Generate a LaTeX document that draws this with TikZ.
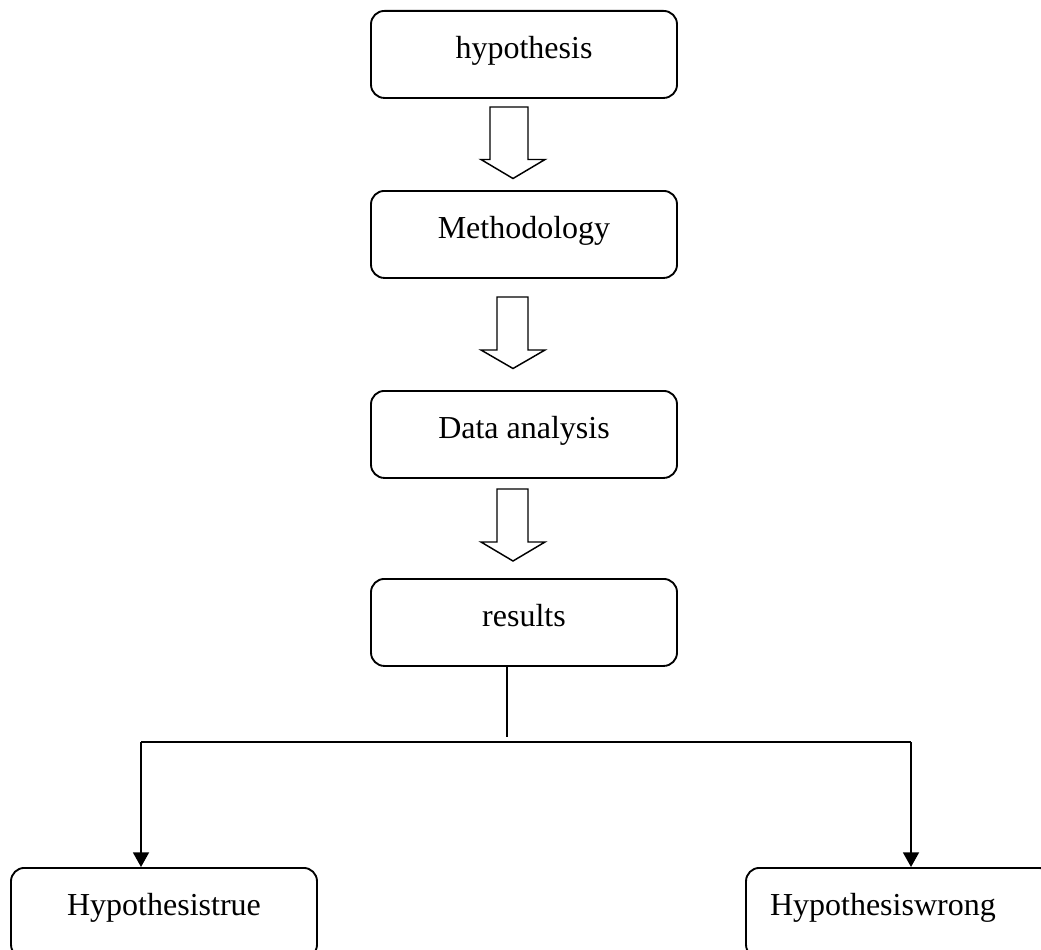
\documentclass[tikz,border=0pt]{standalone}
\usepackage{fontspec}
\setmainfont{Liberation Serif}
\usetikzlibrary{arrows.meta}
\begin{document}
\begin{tikzpicture}[x=0.75pt,y=-0.75pt,
  box/.style={draw, line width=1.4pt, rounded corners=10pt, inner ysep=0pt, inner xsep=0pt,
    minimum width=229.5pt, text height=35.5pt, text depth=29.75pt, anchor=north,
    font=\fontsize{24}{28}\selectfont},
  conn/.style={line width=1.3pt},
  fatarr/.style={draw, line width=1.1pt, fill=white, line join=miter},
  tip/.style={-{Triangle[width=12pt,length=11pt]}}]
\useasboundingbox (0,0) rectangle (1041,949);
\node[box] (hyp) at (524,10) {hypothesis};
\node[box] (meth) at (524,190) {Methodology};
\node[box] (data) at (524,390) {Data analysis};
\node[box] (res) at (524,578) {results};
\node[box, text depth=32pt] (true) at (164,867) {Hypothesistrue};
\node[box, text depth=32pt, text width=193.5pt, align=left, inner xsep=18pt, minimum width=0pt] (wrong) at (899,867) {Hypothesiswrong};
% block arrows
\draw[fatarr] (490,107) -- (528,107) -- (528,159.5) -- (545,159.5) -- (513,178.5) -- (481,159.5) -- (490,159.5) -- cycle;
\draw[fatarr] (497,297) -- (528,297) -- (528,350) -- (545,350) -- (513,368.5) -- (481,350) -- (497,350) -- cycle;
\draw[fatarr] (497,489) -- (528,489) -- (528,542) -- (545,542) -- (513,561) -- (481,542) -- (497,542) -- cycle;
% branching connector
\coordinate (stem) at (507,737);
\coordinate (L) at (141,742);
\coordinate (R) at (911,742);
\draw[conn] (res.south -| stem) -- (stem);
\draw[conn] (L) -- (R);
\draw[conn,tip] (L) -- (L |- true.north);
\draw[conn,tip] (R) -- (R |- wrong.north);
\end{tikzpicture}
\end{document}
